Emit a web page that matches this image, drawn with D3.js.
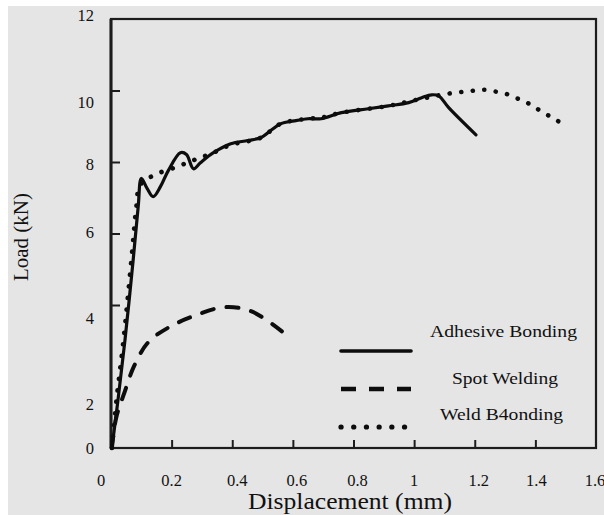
<!DOCTYPE html>
<html>
<head>
<meta charset="utf-8">
<script src="https://cdn.jsdelivr.net/npm/d3@7"></script>
<style>
  body { margin: 0; background: #fff; }
  svg { display: block; font-family: "Liberation Serif", "DejaVu Serif", serif; }
</style>
</head>
<body>
<svg id="chart"></svg>
<script>
const width = 604;
const height = 515;

// series: [displacement mm, load kN]
const adhesive = [
  [0.003, 0], [0.023, 1.34], [0.046, 3.01], [0.073, 5.25], [0.09, 6.78], [0.1, 7.54],
  [0.119, 7.26], [0.139, 7.03], [0.163, 7.31], [0.189, 7.76], [0.229, 8.26], [0.249, 8.21],
  [0.272, 7.81], [0.295, 7.98], [0.338, 8.26], [0.395, 8.51], [0.451, 8.6], [0.494, 8.68],
  [0.527, 8.88], [0.56, 9.07], [0.604, 9.15], [0.65, 9.21], [0.693, 9.21], [0.76, 9.38],
  [0.849, 9.49], [0.915, 9.57], [0.982, 9.66], [1.025, 9.8], [1.058, 9.88], [1.081, 9.85],
  [1.114, 9.52], [1.204, 8.76]
];
const spotWeld = [
  [0.003, 0], [0.017, 0.84], [0.046, 1.59], [0.076, 2.29], [0.123, 2.96], [0.196, 3.4],
  [0.279, 3.71], [0.375, 3.94], [0.464, 3.82], [0.567, 3.24]
];
const weldBond = [
  [0.003, 0], [0.018, 1.34], [0.041, 3.01], [0.067, 5.25], [0.084, 6.78], [0.095, 7.34],
  [0.139, 7.62], [0.219, 7.87], [0.285, 8.09], [0.338, 8.26], [0.395, 8.48], [0.494, 8.68],
  [0.56, 9.07], [0.65, 9.21], [0.693, 9.24], [0.76, 9.38], [0.915, 9.57], [1.025, 9.77],
  [1.111, 9.91], [1.191, 9.99], [1.234, 10.02], [1.274, 9.96], [1.313, 9.88], [1.35, 9.74],
  [1.386, 9.6], [1.42, 9.41], [1.456, 9.24], [1.489, 9.07]
];

const seriesNames = ["Adhesive Bonding", "Spot Welding", "Weld B4onding"];
const xTicks = [0.2, 0.4, 0.6, 0.8, 1, 1.2, 1.4];
const xTickLabels = ["0", "0.2", "0.4", "0.6", "0.8", "1", "1.2", "1.4", "1.6"];
const yTicks = [4, 6, 8, 10];
const yTickLabels = ["0", "2", "4", "6", "8", "10", "12"];

const margin = { left: 111, right: 8, top: 19, bottom: 67 };
const svg = d3.select("#chart").attr("width", width).attr("height", height);

svg.append("rect").attr("x", 8).attr("y", 6).attr("width", width - 8).attr("height", height - 6).attr("fill", "#e5e5e5");

const x = d3.scaleLinear().domain([0, 1.6]).range([margin.left, width - margin.right]);
const y = d3.scaleLinear().domain([0, 12]).range([height - margin.bottom, margin.top]);

// frame
const ink = "#1c1c1c";
svg.append("rect")
  .attr("x", x(0)).attr("y", y(12))
  .attr("width", x(1.6) - x(0)).attr("height", y(0) - y(12))
  .attr("fill", "none").attr("stroke", ink).attr("stroke-width", 2.2);
svg.append("line").attr("x1", x(0)).attr("x2", x(0)).attr("y1", y(12)).attr("y2", y(0))
  .attr("stroke", ink).attr("stroke-width", 3);

// inward ticks
svg.append("g").attr("transform", `translate(0,${y(0)})`)
  .call(d3.axisTop(x).tickValues(xTicks).tickSize(8).tickFormat(""))
  .call((g) => g.select(".domain").remove())
  .call((g) => g.selectAll("line").attr("stroke", ink).attr("stroke-width", 2));
svg.append("g").attr("transform", `translate(${x(0)},0)`)
  .call(d3.axisRight(y).tickValues(yTicks).tickSize(9).tickFormat(""))
  .call((g) => g.select(".domain").remove())
  .call((g) => g.selectAll("line").attr("stroke", ink).attr("stroke-width", 2));

// tick labels (the scan shifts some of them off their ticks)
const xLabelShift = [-10, 0, 5, 4, 4, 0, 4, 1, -1];
svg.append("g").selectAll("text").data(xTickLabels).join("text")
  .attr("x", (d, i) => x(i * 0.2) + xLabelShift[i])
  .attr("y", 486)
  .attr("text-anchor", "middle")
  .attr("font-size", 16.5)
  .attr("fill", "#111")
  .text((d) => d);

const yLabelShift = [-1, -28.5, -14, 0.5, -3, -12.5, 3];
svg.append("g").selectAll("text").data(yTickLabels).join("text")
  .attr("x", 94)
  .attr("y", (d, i) => y(i * 2) - yLabelShift[i] + 5)
  .attr("text-anchor", "end")
  .attr("font-size", 16.5)
  .attr("fill", "#111")
  .text((d) => d);

// axis titles
svg.append("text")
  .attr("x", 248).attr("y", 509)
  .attr("font-size", 23)
  .attr("textLength", 204).attr("lengthAdjust", "spacingAndGlyphs")
  .attr("fill", "#111")
  .text("Displacement (mm)");
svg.append("text")
  .attr("transform", "translate(28,237) rotate(-90)")
  .attr("text-anchor", "middle")
  .attr("font-size", 21)
  .attr("fill", "#111")
  .text("Load (kN)");

// curves
const line = d3.line()
  .x((d) => x(d[0]))
  .y((d) => y(d[1]))
  .curve(d3.curveCatmullRom.alpha(0.5));

const styles = [
  { dash: null, width: 3.2, cap: "round" },
  { dash: "12,13", width: 4, cap: "round" },
  { dash: "0.1,11.5", width: 4.6, cap: "round" }
];
const allSeries = [adhesive, spotWeld, weldBond];

svg.append("g").selectAll("path").data(allSeries).join("path")
  .attr("d", line)
  .attr("fill", "none")
  .attr("stroke", "#0d0d0d")
  .attr("stroke-width", (d, i) => styles[i].width)
  .attr("stroke-linecap", (d, i) => styles[i].cap)
  .attr("stroke-linejoin", "round")
  .attr("stroke-dasharray", (d, i) => styles[i].dash);

// legend
const legendRows = [
  { lineY: 351, textX: 430, textY: 337, textLen: 147 },
  { lineY: 389, textX: 452, textY: 384, textLen: 106 },
  { lineY: 427, textX: 440, textY: 420, textLen: 123 }
];
const legend = svg.append("g");
legend.selectAll("line").data(seriesNames).join("line")
  .attr("x1", 341).attr("x2", 411)
  .attr("y1", (d, i) => legendRows[i].lineY).attr("y2", (d, i) => legendRows[i].lineY)
  .attr("stroke", "#0d0d0d")
  .attr("stroke-width", (d, i) => (i === 0 ? 3.6 : styles[i].width + 0.6))
  .attr("stroke-linecap", (d, i) => (i === 1 ? "butt" : "round"))
  .attr("stroke-dasharray", (d, i) => (i === 1 ? "15,13" : i === 2 ? "0.1,12.6" : null));
legend.selectAll("text").data(seriesNames).join("text")
  .attr("x", (d, i) => legendRows[i].textX)
  .attr("y", (d, i) => legendRows[i].textY)
  .attr("font-size", 17.5)
  .attr("textLength", (d, i) => legendRows[i].textLen)
  .attr("lengthAdjust", "spacingAndGlyphs")
  .attr("fill", "#111")
  .text((d) => d);
</script>
</body>
</html>
